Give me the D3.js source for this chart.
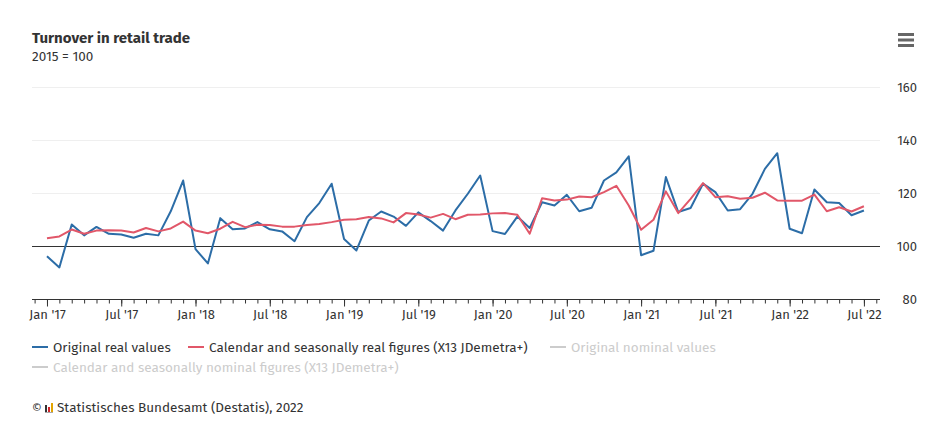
<!DOCTYPE html>
<html>
<head>
<meta charset="utf-8">
<script src="https://cdn.jsdelivr.net/npm/d3@7"></script>
<style>
  body { margin: 0; background: #fff; }
  text { font-family: "Fira Sans", Roboto, "Noto Sans", sans-serif; }
</style>
</head>
<body>
<div id="chart"></div>
<script>
// monthly values, Jan 2017 .. Jul 2022
const firstYear = 2017;
const monthNames = ["Jan", "Feb", "Mar", "Apr", "May", "Jun", "Jul", "Aug", "Sep", "Oct", "Nov", "Dec"];

const originalReal = [
  96.3, 92.1, 108.3, 104.2, 107.4, 104.8, 104.5, 103.3, 104.8, 104.2, 113.3, 124.9,
  99.0, 93.6, 110.7, 106.5, 106.8, 109.2, 106.5, 105.7, 102.0, 111.1, 116.4, 123.7,
  102.8, 98.5, 109.8, 113.2, 111.3, 107.8, 112.9, 109.6, 106.0, 113.6, 119.9, 126.8,
  105.8, 104.7, 111.3, 107.0, 116.7, 115.5, 119.5, 113.3, 114.6, 124.9, 128.0, 134.0,
  96.7, 98.4, 126.2, 113.0, 114.5, 123.7, 120.5, 113.6, 114.1, 119.9, 129.3, 135.2,
  106.7, 105.0, 121.5, 116.7, 116.4, 111.8, 113.6
];

const seasonalReal = [
  103.1, 103.8, 106.4, 104.8, 106.0, 106.1, 106.0, 105.3, 107.0, 105.7, 106.8, 109.4,
  106.0, 105.0, 106.7, 109.3, 107.3, 108.2, 108.1, 107.5, 107.5, 108.1, 108.5, 109.2,
  110.1, 110.3, 111.1, 110.6, 109.1, 112.6, 112.1, 110.9, 112.3, 110.3, 112.0, 112.1,
  112.5, 112.6, 112.0, 104.8, 118.2, 117.4, 117.7, 118.9, 118.6, 120.5, 122.9, 115.5,
  106.3, 110.1, 120.8, 112.6, 118.0, 123.9, 118.6, 119.0, 118.0, 118.4, 120.3, 117.4,
  117.3, 117.3, 119.6, 113.3, 114.8, 113.2, 115.2
];

const yTicks = [80, 100, 120, 140, 160];

const legendItems = [
  { label: "Original real values", color: "#2c6da7", active: true },
  { label: "Calendar and seasonally real figures (X13 JDemetra+)", color: "#e15769", active: true },
  { label: "Original nominal values", color: "#cccccc", active: false },
  { label: "Calendar and seasonally nominal figures (X13 JDemetra+)", color: "#cccccc", active: false }
];

const width = 946, height = 429;

const svg = d3.select("#chart").append("svg")
  .attr("width", width)
  .attr("height", height);

// title
svg.append("text")
  .attr("x", 32).attr("y", 43)
  .attr("font-size", 15).attr("font-weight", "bold").attr("fill", "#333")
  .text("Turnover in retail trade");
svg.append("text")
  .attr("x", 32).attr("y", 61)
  .attr("font-size", 13.5).attr("fill", "#333")
  .text("2015 = 100");

// menu icon
svg.append("g").selectAll("rect")
  .data([0, 1, 2])
  .enter().append("rect")
  .attr("x", 898).attr("y", d => 33 + d * 5.5)
  .attr("width", 16).attr("height", 3)
  .attr("fill", "#666");

// scales
const x = d3.scaleLinear()
  .domain([-1.21, 67.3])
  .range([32, 880]);

const y = d3.scaleLinear()
  .domain([80, 160])
  .range([299.5, 87.5]);

// grid
svg.append("g").selectAll("line")
  .data(yTicks.filter(v => v > 100))
  .enter().append("line")
  .attr("x1", 32).attr("x2", 880)
  .attr("y1", d => y(d)).attr("y2", d => y(d))
  .attr("stroke", "#efefef").attr("stroke-width", 1);

// y labels on the right
svg.append("g").selectAll("text")
  .data(yTicks)
  .enter().append("text")
  .attr("x", 917).attr("y", d => y(d) + 4.5)
  .attr("text-anchor", "end")
  .attr("font-size", 13).attr("fill", "#333")
  .text(d => d);

// x axis: monthly minor ticks, half-year major ticks with labels
const fmt = i => monthNames[i % 12] + " '" + String((firstYear + Math.floor(i / 12)) % 100).padStart(2, "0");

svg.append("g")
  .attr("transform", `translate(0, ${y(80)})`)
  .call(d3.axisBottom(x).tickValues(d3.range(-1, 68)).tickSize(4).tickFormat(""))
  .call(g => g.select(".domain").attr("stroke", "#333").attr("d", "M32,0H880"))
  .call(g => g.selectAll(".tick line").attr("stroke", "#333"));

svg.append("g")
  .attr("transform", `translate(0, ${y(80)})`)
  .call(d3.axisBottom(x).tickValues(d3.range(0, 67, 6)).tickSize(7).tickPadding(3).tickFormat(fmt))
  .call(g => g.select(".domain").remove())
  .call(g => g.selectAll(".tick line").attr("stroke", "#333"))
  .call(g => g.selectAll(".tick text")
    .attr("font-size", 13).attr("fill", "#333")
    .attr("font-family", "\"Fira Sans\", Roboto, \"Noto Sans\", sans-serif"));

// 100 baseline
svg.append("line")
  .attr("x1", 32).attr("x2", 880)
  .attr("y1", y(100)).attr("y2", y(100))
  .attr("stroke", "#333").attr("stroke-width", 1);

// lines
const line = d3.line()
  .x((d, i) => x(i))
  .y(d => y(d));

svg.append("path")
  .datum(originalReal)
  .attr("d", line)
  .attr("fill", "none")
  .attr("stroke", legendItems[0].color)
  .attr("stroke-width", 2)
  .attr("stroke-linejoin", "round");

svg.append("path")
  .datum(seasonalReal)
  .attr("d", line)
  .attr("fill", "none")
  .attr("stroke", legendItems[1].color)
  .attr("stroke-width", 2)
  .attr("stroke-linejoin", "round");

// legend
const legendPos = [[32, 347], [188, 347], [550, 347], [32, 367]];
const lg = svg.append("g").selectAll("g")
  .data(legendItems)
  .enter().append("g")
  .attr("transform", (d, i) => `translate(${legendPos[i][0]}, ${legendPos[i][1]})`);

lg.append("line")
  .attr("x1", 0).attr("x2", 16)
  .attr("y1", 0).attr("y2", 0)
  .attr("stroke", d => d.color).attr("stroke-width", 2);

lg.append("text")
  .attr("x", 21).attr("y", 4.7)
  .attr("font-size", 13.5)
  .attr("fill", d => d.active ? "#333" : "#cccccc")
  .text(d => d.label);

// footer
svg.append("text")
  .attr("x", 32).attr("y", 412)
  .attr("font-size", 12).attr("fill", "#333")
  .text("©");
const logo = svg.append("g").attr("transform", "translate(45, 402)");
logo.append("rect").attr("x", 0).attr("y", 3).attr("width", 2).attr("height", 7).attr("fill", "#333");
logo.append("rect").attr("x", 3).attr("y", 5).attr("width", 2).attr("height", 5).attr("fill", "#d2232a");
logo.append("rect").attr("x", 6).attr("y", 1).attr("width", 2).attr("height", 9).attr("fill", "#e3a400");
logo.append("rect").attr("x", 0).attr("y", 10).attr("width", 8).attr("height", 1).attr("fill", "#aaa");
svg.append("text")
  .attr("x", 57).attr("y", 412)
  .attr("font-size", 13.5).attr("fill", "#333")
  .text("Statistisches Bundesamt (Destatis), 2022");
</script>
</body>
</html>
